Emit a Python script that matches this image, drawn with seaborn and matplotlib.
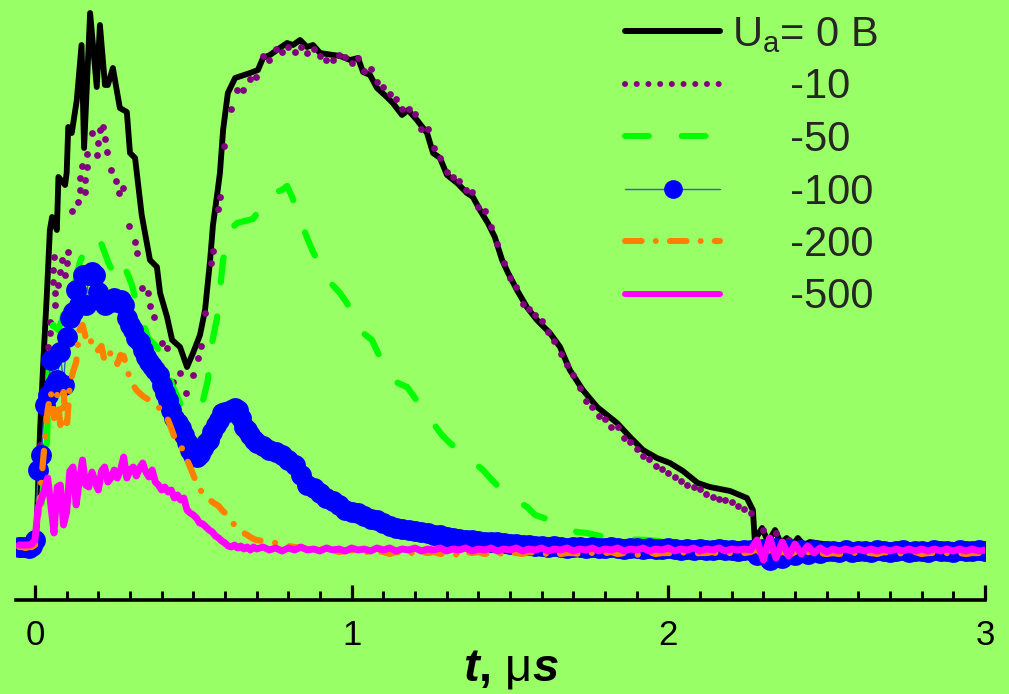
import numpy as np
import matplotlib
matplotlib.use("Agg")
import matplotlib.pyplot as plt
from matplotlib.lines import Line2D
from matplotlib.ticker import MultipleLocator
import seaborn as sns

# ---------------- data (t in microseconds, signal in arbitrary units) ----------------
x_ticks = [0, 1, 2, 3]
x_tick_labels = ["0", "1", "2", "3"]
legend_labels = ["U$_\\mathregular{a}$= 0 B", "     -10", "     -50", "     -100", "     -200", "     -500"]

# shared sampling grid for the -100, -200, -500 traces
t_early = np.round(np.arange(-0.05, 0.705, 0.01), 2)   # 76 points
t_late = np.round(np.arange(0.72, 3.001, 0.02), 2)     # 115 points
t_grid = np.concatenate([t_early, t_late])

# U_a = 0 B (black)
black_t = [-0.054, -0.006, 0.005, 0.016, 0.026, 0.037, 0.047, 0.054, 0.069, 0.074,
           0.095, 0.100, 0.105, 0.116, 0.132, 0.147, 0.155, 0.174, 0.195, 0.205,
           0.221, 0.230, 0.246, 0.258, 0.268, 0.290, 0.300, 0.316, 0.337, 0.363,
           0.385, 0.395, 0.417, 0.433, 0.458, 0.480, 0.499, 0.521, 0.537, 0.553,
           0.562, 0.575, 0.584, 0.594, 0.609, 0.632, 0.679, 0.704, 0.720, 0.742,
           0.764, 0.796, 0.815, 0.837, 0.859, 0.878, 0.900, 0.941, 0.963, 0.995,
           1.020, 1.036, 1.058, 1.080, 1.111, 1.130, 1.159, 1.178, 1.206, 1.238,
           1.257, 1.279, 1.301, 1.333, 1.364, 1.383, 1.405, 1.430, 1.452, 1.475,
           1.494, 1.522, 1.553, 1.585, 1.626, 1.658, 1.689, 1.730, 1.775, 1.838,
           1.879, 1.920, 1.964, 2.005, 2.046, 2.093, 2.131, 2.195, 2.248, 2.267,
           2.273, 2.296, 2.315, 2.337, 2.355, 2.374, 2.393, 2.409, 2.428, 2.447,
           2.510, 2.573, 3.000]
black_y = [0.00, 0.00, 0.17, 1.17, 1.84, 2.50, 3.17, 3.30, 3.17, 3.70,
           3.62, 3.74, 4.20, 4.14, 4.47, 5.02, 3.99, 5.34, 4.60, 5.22,
           4.62, 4.62, 4.79, 4.57, 4.39, 4.35, 3.94, 3.89, 3.32, 2.87,
           2.80, 2.54, 2.30, 2.07, 2.00, 1.80, 1.94, 2.12, 2.37, 2.87,
           3.22, 3.52, 3.74, 4.17, 4.54, 4.69, 4.74, 4.77, 4.89, 4.92,
           4.97, 5.04, 5.02, 5.07, 5.00, 5.02, 4.94, 4.92, 4.91, 4.87,
           4.89, 4.75, 4.72, 4.59, 4.50, 4.44, 4.32, 4.37, 4.27, 4.14,
           3.94, 3.89, 3.72, 3.64, 3.54, 3.50, 3.37, 3.24, 3.10, 2.87,
           2.74, 2.57, 2.40, 2.27, 2.14, 2.00, 1.77, 1.57, 1.40, 1.24,
           1.10, 0.97, 0.89, 0.84, 0.76, 0.64, 0.60, 0.56, 0.49, 0.37,
           0.07, 0.19, 0.05, 0.17, 0.04, 0.09, 0.02, 0.09, 0.02, 0.05,
           0.02, 0.02, 0.02]

# -10 (purple dots)
purple_t_early = [-0.054, -0.035, -0.016, 0.000, 0.009, 0.016, 0.028, 0.041, 0.047, 0.048,
                  0.057, 0.058, 0.059, 0.063, 0.064, 0.073, 0.079, 0.085, 0.095, 0.101,
                  0.104, 0.117, 0.136, 0.142, 0.143, 0.149, 0.158, 0.159, 0.164, 0.165,
                  0.180, 0.196, 0.199, 0.205, 0.215, 0.221, 0.227, 0.240, 0.256, 0.265,
                  0.278, 0.297, 0.316, 0.322, 0.338, 0.357, 0.363, 0.376, 0.401, 0.417,
                  0.436, 0.458, 0.477, 0.499, 0.515, 0.524, 0.537, 0.556, 0.562, 0.578,
                  0.584, 0.597, 0.619, 0.638, 0.657, 0.679, 0.698]
purple_y_early = [0.00, 0.00, 0.00, 0.01, 0.47, 1.02, 1.57, 2.00, 2.14, 2.25,
                  2.65, 2.77, 2.90, 2.42, 2.54, 2.62, 2.75, 2.87, 2.72, 2.84,
                  2.95, 3.36, 3.45, 3.57, 3.69, 3.81, 3.55, 3.67, 3.80, 3.93,
                  4.14, 3.92, 4.04, 4.17, 4.20, 4.08, 3.95, 3.77, 3.66, 3.54,
                  3.59, 3.21, 3.05, 2.94, 2.59, 2.54, 2.41, 2.30, 2.04, 1.99,
                  1.65, 1.74, 1.54, 1.72, 1.89, 2.01, 2.34, 2.84, 2.96, 3.38,
                  3.50, 4.01, 4.38, 4.57, 4.57, 4.68, 4.70]
purple_y_late = [4.91, 4.87, 4.98, 4.95, 5.00, 4.95, 5.00, 4.94, 4.98, 4.91,
                 4.87, 4.87, 4.92, 4.90, 4.84, 4.89, 4.76, 4.78, 4.65, 4.60,
                 4.53, 4.48, 4.38, 4.38, 4.33, 4.18, 4.18, 3.99, 3.89, 3.75,
                 3.70, 3.66, 3.57, 3.55, 3.40, 3.36, 3.20, 3.03, 2.84, 2.69,
                 2.60, 2.43, 2.38, 2.32, 2.26, 2.15, 2.06, 1.93, 1.82, 1.72,
                 1.59, 1.46, 1.40, 1.31, 1.28, 1.20, 1.20, 1.09, 1.05, 0.98,
                 0.91, 0.88, 0.81, 0.78, 0.74, 0.70, 0.66, 0.62, 0.60, 0.58,
                 0.53, 0.50, 0.48, 0.47, 0.45, 0.41, 0.38, 0.34, 0.03, 0.17,
                 0.02, 0.14, 0.02, 0.07, 0.02, 0.04, 0.01, 0.02, 0.00, 0.01,
                 0.00, 0.01, 0.00, 0.00, 0.01, 0.00, 0.00, 0.01, 0.00, 0.00,
                 0.01, 0.00, 0.00, 0.01, 0.00, 0.00, 0.01, 0.00, 0.00, 0.01,
                 0.00, 0.00, 0.01, 0.00, 0.00]

# -50 (green dashes)
green_t = [-0.054, 0.000, 0.016, 0.028, 0.038, 0.047, 0.057, 0.073, 0.085, 0.098,
           0.111, 0.126, 0.142, 0.155, 0.164, 0.183, 0.205, 0.231, 0.253, 0.268,
           0.278, 0.294, 0.306, 0.322, 0.332, 0.357, 0.385, 0.401, 0.436, 0.467,
           0.483, 0.505, 0.527, 0.546, 0.559, 0.575, 0.584, 0.594, 0.616, 0.638,
           0.663, 0.688, 0.720, 0.752, 0.780, 0.796, 0.812, 0.846, 0.862, 0.878,
           0.906, 0.931, 0.963, 0.985, 1.010, 1.036, 1.064, 1.083, 1.115, 1.146,
           1.175, 1.200, 1.228, 1.257, 1.285, 1.310, 1.348, 1.383, 1.415, 1.437,
           1.468, 1.509, 1.554, 1.579, 1.626, 1.674, 1.711, 1.743, 1.784, 1.847,
           1.932, 2.037, 2.163, 2.416, 3.000]
green_y = [0.00, 0.02, 0.27, 0.67, 1.07, 2.10, 2.22, 2.17, 2.27, 2.42,
           2.52, 2.64, 2.85, 2.95, 3.02, 3.00, 3.07, 2.85, 2.70, 2.79,
           2.83, 2.72, 2.62, 2.42, 2.33, 2.09, 2.00, 1.90, 1.60, 1.37,
           1.34, 1.37, 1.42, 1.67, 2.04, 2.29, 2.57, 2.87, 3.17, 3.24,
           3.26, 3.28, 3.42, 3.54, 3.57, 3.61, 3.50, 3.20, 3.07, 2.95,
           2.79, 2.65, 2.54, 2.44, 2.27, 2.14, 2.07, 1.94, 1.77, 1.64,
           1.60, 1.49, 1.35, 1.24, 1.12, 1.04, 0.94, 0.85, 0.77, 0.69,
           0.59, 0.49, 0.40, 0.32, 0.27, 0.22, 0.15, 0.14, 0.11, 0.08,
           0.07, 0.04, 0.02, 0.00, 0.00]

# -100 (blue circles) on t_grid
blue_y = [0.00, 0.00, 0.00, -0.01, 0.01,
          0.07, 0.77, 0.92, 1.42, 1.52, 1.87, 1.62, 1.67, 1.95, 1.62,
          2.10, 2.29, 2.35, 2.57, 2.42, 2.72, 2.42, 2.72, 2.75, 2.72,
          2.55, 2.47, 2.42, 2.44, 2.47, 2.49, 2.45, 2.47, 2.42, 2.29,
          2.22, 2.17, 2.09, 2.05, 1.97, 1.90, 1.85, 1.81, 1.77, 1.72,
          1.62, 1.54, 1.47, 1.37, 1.29, 1.24, 1.19, 1.12, 1.05, 0.97,
          0.92, 0.90, 0.93, 0.99, 1.04, 1.07, 1.15, 1.22, 1.27, 1.34,
          1.35, 1.35, 1.37, 1.39, 1.37, 1.29, 1.20, 1.17, 1.12, 1.07,
          1.04,
          1.01, 0.97, 0.95, 0.92, 0.87, 0.82, 0.72, 0.62, 0.59, 0.54,
          0.49, 0.46, 0.42, 0.37, 0.35, 0.34, 0.31, 0.28, 0.27, 0.24,
          0.21, 0.19, 0.18, 0.17, 0.16, 0.15, 0.14, 0.12, 0.12, 0.10,
          0.09, 0.08, 0.07, 0.07, 0.06, 0.05, 0.05, 0.05, 0.04, 0.03,
          0.03, 0.02, 0.02, 0.01, 0.01, 0.00, 0.01, 0.00, -0.01, 0.00,
          0.00, -0.01, 0.00, -0.01, -0.01, 0.00, -0.01, -0.02, -0.01, -0.01,
          -0.02, -0.01, -0.02, -0.02, -0.01, -0.02, -0.03, -0.02, -0.03, -0.02,
          -0.03, -0.03, -0.02, -0.03, -0.03, -0.04, -0.03, -0.03,
          -0.08, -0.02, -0.13, -0.01, -0.11, -0.02, -0.08, -0.03, -0.07, -0.03, -0.06, -0.04,
          -0.04, -0.05, -0.03, -0.05, -0.04, -0.04, -0.05, -0.03, -0.04, -0.05,
          -0.04, -0.03, -0.05, -0.04, -0.04, -0.05, -0.03, -0.04, -0.04, -0.05,
          -0.03, -0.04, -0.04, -0.03, -0.04]

# -200 (orange dash-dot) on t_grid
orange_y = [0.00, 0.00, -0.01, 0.00, 0.00,
            0.02, 0.27, 0.67, 1.02, 1.37, 1.55, 1.29, 1.52, 1.22, 1.55,
            1.17, 1.62, 1.75, 1.85, 2.17, 2.22, 2.10, 2.14, 2.02, 1.95,
            1.97, 2.01, 1.85, 1.89, 1.95, 1.91, 1.83, 1.92, 1.91, 1.80,
            1.67, 1.62, 1.57, 1.54, 1.51, 1.49, 1.47, 1.45, 1.43, 1.40,
            1.35, 1.31, 1.27, 1.19, 1.10, 1.05, 1.01, 0.95, 0.87, 0.80,
            0.72, 0.64, 0.57, 0.55, 0.52, 0.48, 0.45, 0.43, 0.41, 0.37,
            0.34, 0.30, 0.26, 0.22, 0.19, 0.16, 0.14, 0.12, 0.10, 0.08,
            0.07,
            0.06, 0.05, 0.04, 0.02, 0.01, 0.00, -0.01, -0.02, -0.03, -0.02,
            -0.04, -0.03, -0.05, -0.04, -0.03, -0.05, -0.04, -0.06, -0.04, -0.05,
            -0.07, -0.05, -0.06, -0.04, -0.08, -0.05, -0.06, -0.05, -0.07, -0.05,
            -0.06, -0.09, -0.05, -0.06, -0.05, -0.07, -0.06, -0.05, -0.08, -0.06,
            -0.06, -0.07, -0.05, -0.06, -0.08, -0.06, -0.05, -0.07, -0.06, -0.06,
            -0.07, -0.05, -0.06, -0.07, -0.06, -0.05, -0.07, -0.06, -0.06, -0.08,
            -0.06, -0.05, -0.07, -0.06, -0.06, -0.07, -0.05, -0.06, -0.07, -0.06,
            -0.06, -0.05, -0.07, -0.06, -0.06, -0.07, -0.06, -0.05,
            -0.02, -0.10, -0.03, -0.09, -0.04, -0.08, -0.05, -0.08, -0.05, -0.07, -0.06, -0.07,
            -0.06, -0.07, -0.06, -0.05, -0.07, -0.06, -0.06, -0.07, -0.05, -0.06,
            -0.07, -0.06, -0.06, -0.05, -0.07, -0.06, -0.06, -0.07, -0.06, -0.05,
            -0.06, -0.07, -0.06, -0.06, -0.05]

# -500 (magenta) on t_grid
magenta_y = [0.02, 0.02, 0.02, 0.02, 0.03,
             0.07, 0.40, 0.47, 0.57, 0.69, 0.42, 0.14, 0.60, 0.62, 0.22,
             0.35, 0.76, 0.80, 0.42, 0.67, 0.87, 0.62, 0.60, 0.75, 0.65,
             0.57, 0.76, 0.80, 0.65, 0.69, 0.77, 0.69, 0.77, 0.90, 0.69,
             0.77, 0.80, 0.71, 0.79, 0.84, 0.75, 0.70, 0.77, 0.65, 0.62,
             0.57, 0.60, 0.55, 0.57, 0.49, 0.52, 0.47, 0.49, 0.37, 0.34,
             0.32, 0.29, 0.24, 0.23, 0.20, 0.17, 0.15, 0.11, 0.09, 0.06,
             0.04, 0.01, 0.00, 0.02, -0.01, 0.01, -0.02, 0.00, -0.03, 0.00,
             -0.02,
             0.00, -0.03, -0.01, -0.04, -0.01, -0.03, 0.00, -0.03, -0.02, -0.04,
             -0.01, -0.03, -0.02, -0.04, -0.01, -0.03, -0.02, -0.04, -0.01, -0.03,
             -0.01, -0.04, -0.02, -0.03, -0.01, -0.04, -0.02, -0.03, -0.01, -0.04,
             -0.02, -0.03, -0.01, -0.04, -0.02, -0.03, -0.01, -0.04, -0.02, -0.03,
             -0.01, -0.04, -0.02, -0.03, -0.01, -0.04, -0.02, -0.03, -0.01, -0.04,
             -0.02, -0.03, -0.01, -0.04, -0.02, -0.03, -0.01, -0.04, -0.02, -0.03,
             -0.01, -0.04, -0.02, -0.03, -0.01, -0.04, -0.02, -0.03, -0.01, -0.04,
             -0.02, -0.03, -0.01, -0.04, -0.02, -0.03, -0.02, -0.03,
             0.07, -0.13, 0.09, -0.11, 0.05, -0.09, 0.03, -0.07, 0.01, -0.06, -0.01, -0.05,
             -0.02, -0.04, -0.02, -0.04, -0.02, -0.04, -0.02, -0.04, -0.02, -0.04,
             -0.02, -0.04, -0.02, -0.04, -0.02, -0.04, -0.02, -0.04, -0.02, -0.04,
             -0.02, -0.04, -0.02, -0.04, -0.03]

purple_t = list(purple_t_early) + list(t_late)
purple_y = list(purple_y_early) + list(purple_y_late)

# ---------------- styling ----------------
BG = "#99FF66"
C_BLACK, C_PURPLE, C_GREEN = "#000000", "#800080", "#00FF00"
C_BLUE, C_BLUE_LINE, C_ORANGE, C_MAGENTA = "#0000FF", "#3060D0", "#FF8000", "#FF00FF"
DASH_GREEN = (0, (4, 5.5))
DASH_ORANGE = (0, (2.8, 2.35, 0.01, 2.35))
DOTS = (0, (0.01, 1.95))

sns.set_theme(style="white")
plt.rcParams["font.family"] = ["Liberation Sans", "DejaVu Sans"]
plt.rcParams["mathtext.fontset"] = "custom"
plt.rcParams["mathtext.it"] = "Liberation Sans:italic:bold"
plt.rcParams["mathtext.rm"] = "Liberation Sans"
plt.rcParams["mathtext.bf"] = "Liberation Sans:bold"

fig = plt.figure(figsize=(10.09, 6.94), dpi=100, facecolor=BG)
ax = fig.add_axes([16 / 1009, 94 / 694, 969 / 1009, 600 / 694])
ax.set_facecolor(BG)

sns.lineplot(x=black_t, y=black_y, ax=ax, color=C_BLACK, lw=4.2, sort=False, estimator=None,
             solid_joinstyle="round", solid_capstyle="round")
sns.scatterplot(x=purple_t, y=purple_y, ax=ax, color=C_PURPLE, s=24, linewidth=0, zorder=3)
sns.lineplot(x=green_t, y=green_y, ax=ax, color=C_GREEN, lw=4.5, sort=False, estimator=None,
             linestyle=DASH_GREEN, dash_capstyle="round", dash_joinstyle="round", zorder=4)
sns.lineplot(x=t_grid, y=blue_y, ax=ax, color=C_BLUE_LINE, lw=1.0, sort=False, estimator=None,
             marker="o", markersize=15, markerfacecolor=C_BLUE, markeredgecolor=C_BLUE,
             markeredgewidth=0, zorder=5)
sns.lineplot(x=t_grid, y=orange_y, ax=ax, color=C_ORANGE, lw=4.5, sort=False, estimator=None,
             linestyle=DASH_ORANGE, dash_capstyle="round", zorder=6)
sns.lineplot(x=t_grid, y=magenta_y, ax=ax, color=C_MAGENTA, lw=5.0, sort=False, estimator=None,
             solid_joinstyle="round", solid_capstyle="round", zorder=7)

ax.set_xlim(-0.06, 3.0)
ax.set_ylim(-0.53, 5.47)
for side in ["left", "top", "right"]:
    ax.spines[side].set_visible(False)
ax.spines["bottom"].set_color("black")
ax.spines["bottom"].set_linewidth(2.6)
ax.set_yticks([])
ax.set_ylabel("")
ax.set_xticks(x_ticks, labels=x_tick_labels)
ax.xaxis.set_minor_locator(MultipleLocator(0.1))
ax.tick_params(axis="x", which="major", direction="in", length=10.5, width=2.3, color="black",
               labelsize=25, pad=14, labelcolor="black", bottom=True)
ax.tick_params(axis="x", which="minor", direction="in", length=6.5, width=2.1, color="black", bottom=True)
ax.grid(False)

ax.set_xlabel(r"$t$, $\mathrm{\mu}$$s$", fontsize=34, fontweight="bold", color="black")
ax.xaxis.set_label_coords(0.511, -0.078)

handles = [
    Line2D([], [], color=C_BLACK, lw=4.3, solid_capstyle="round"),
    Line2D([], [], color=C_PURPLE, lw=4.3, linestyle=DOTS, dash_capstyle="round"),
    Line2D([], [], color=C_GREEN, lw=4.3, linestyle=DASH_GREEN, dash_capstyle="round"),
    Line2D([], [], color=C_BLUE_LINE, lw=1.0, marker="o", markersize=13.5,
           markerfacecolor=C_BLUE, markeredgecolor=C_BLUE, markeredgewidth=0),
    Line2D([], [], color=C_ORANGE, lw=4.3, linestyle=DASH_ORANGE, dash_capstyle="round"),
    Line2D([], [], color=C_MAGENTA, lw=4.3, solid_capstyle="round"),
]
ax.legend(handles, legend_labels, loc="upper left",
          bbox_to_anchor=(625 / 1009, 1 - 15 / 694), bbox_transform=fig.transFigure,
          frameon=False, fontsize=30, handlelength=2.28, handletextpad=0.29,
          labelspacing=0.3, borderpad=0, borderaxespad=0, numpoints=1)

fig.savefig("out.png", dpi=100, facecolor=BG)
